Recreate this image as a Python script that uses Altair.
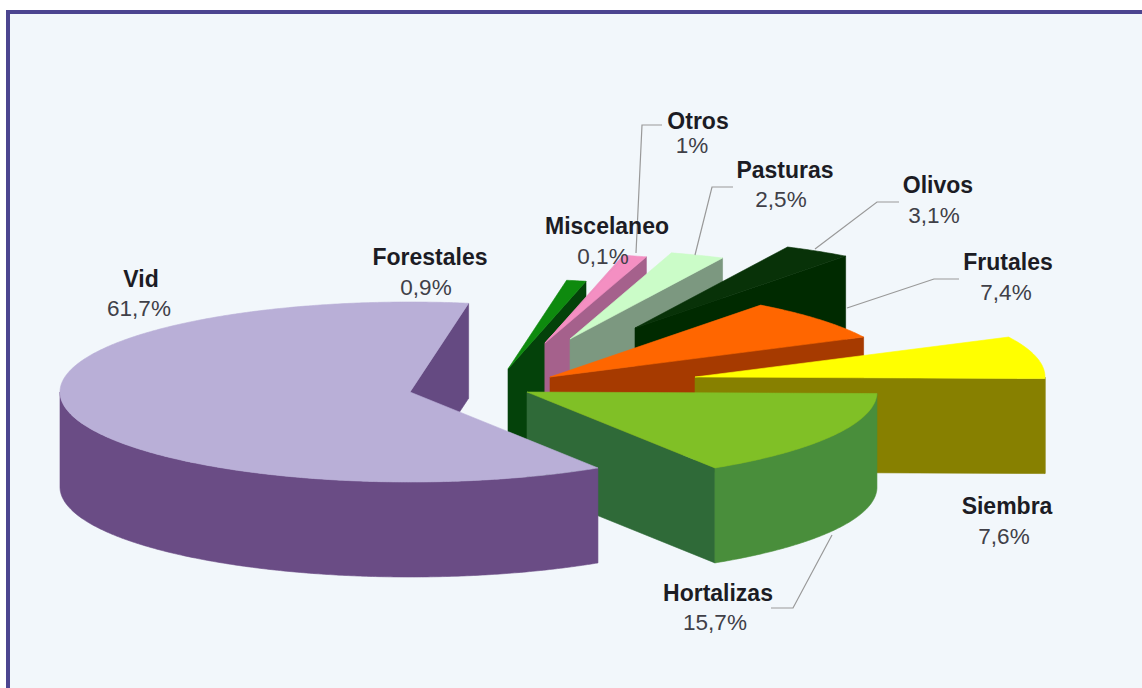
import math
import altair as alt
import pandas as pd

# Land use shares, in the order they run clockwise round the pie, Vid closing the circle
NAMES = ["Hortalizas", "Siembra", "Frutales", "Olivos", "Pasturas", "Otros", "Miscelaneo", "Forestales", "Vid"]
SHARES = [15.7, 7.6, 7.4, 3.1, 2.5, 1.0, 0.1, 0.9, 61.7]
SHARE_TEXT = ["15,7%", "7,6%", "7,4%", "3,1%", "2,5%", "1%", "0,1%", "0,9%", "61,7%"]

TOP_COLORS = {
    "Forestales": "#0E8A0E", "Miscelaneo": "#F08FC0", "Otros": "#F48FC2", "Pasturas": "#CBFCC8", "Olivos": "#083208",
    "Frutales": "#FF6600", "Siembra": "#FFFF00", "Hortalizas": "#80C026", "Vid": "#B9AFD7",
}
CUT_COLORS = {
    "Forestales": "#04420A", "Miscelaneo": "#A5618C", "Otros": "#A5618C", "Pasturas": "#7C9880", "Olivos": "#002A00",
    "Frutales": "#A63A00", "Siembra": "#878000", "Hortalizas": "#2F6A38", "Vid": "#654A82",
}
RIM_COLORS = {
    "Forestales": "#04420A", "Miscelaneo": "#A5618C", "Otros": "#A5618C", "Pasturas": "#7C9880", "Olivos": "#002A00",
    "Frutales": "#A63A00", "Siembra": "#878000", "Hortalizas": "#498E3B", "Vid": "#6A4C85",
}

# Where each exploded slice has its point on the chart
APEX = {
    "Forestales": (508, 369), "Miscelaneo": (545, 343), "Otros": (545, 343), "Pasturas": (570, 339), "Olivos": (635, 328),
    "Frutales": (550, 377), "Siembra": (695, 377), "Hortalizas": (527, 392), "Vid": (410, 392),
}

RADIUS_X, RADIUS_Y, DEPTH = 350, 90, 95
REFERENCE_ANGLE = -1.0  # Hortalizas' upper edge, in degrees

# Painter's order: the back slices first, Vid last
PAINT_ORDER = ["Forestales", "Miscelaneo", "Otros", "Pasturas", "Olivos", "Frutales", "Siembra", "Hortalizas", "Vid"]

LABEL_NAMES = ["Vid", "Forestales", "Miscelaneo", "Otros", "Pasturas", "Olivos", "Frutales", "Siembra", "Hortalizas"]
NAME_X = [141, 430, 607, 698, 785, 938, 1008, 1007, 718]
NAME_Y = [280, 258, 227, 122, 171, 186, 263, 507, 594]
VALUE_X = [139, 426, 603, 692, 781, 934, 1006, 1004, 715]
VALUE_Y = [309, 288, 257, 146, 200, 216, 293, 537, 623]

LEADERS = {
    "Otros": [(662, 125), (642, 125), (636, 253)],
    "Pasturas": [(733, 187), (712, 187), (695, 255)],
    "Olivos": [(899, 202), (877, 202), (815, 249)],
    "Frutales": [(959, 279), (934, 279), (847, 308)],
    "Hortalizas": [(771, 608), (793, 608), (832, 535)],
}


def rim_point(cx, cy, degrees, drop=0.0):
    a = math.radians(degrees)
    return cx + RADIUS_X * math.cos(a), cy - RADIUS_Y * math.sin(a) + drop


def arc(cx, cy, start, end, drop=0.0):
    steps = max(2, int(abs(end - start) * 2))
    return [rim_point(cx, cy, start + (end - start) * i / steps, drop) for i in range(steps + 1)]


# Angular span of every slice, from its share: Hortalizas hangs below the reference
# edge, the others stack counter-clockwise above it and Vid wraps round to meet Hortalizas.
share_of = dict(zip(NAMES, SHARES))
spans = {"Hortalizas": (REFERENCE_ANGLE - share_of["Hortalizas"] * 3.6, REFERENCE_ANGLE)}
edge = REFERENCE_ANGLE
for name in ["Siembra", "Frutales", "Olivos", "Pasturas", "Otros", "Miscelaneo", "Forestales", "Vid"]:
    spans[name] = (edge, edge + share_of[name] * 3.6)
    edge += share_of[name] * 3.6

rows = []


def add_shape(points, color):
    shape_id = rows[-1]["shape"] + 1 if rows else 0
    for k, (px, py) in enumerate(points + [points[0]]):
        rows.append({"shape": shape_id, "k": k, "x": px, "y": py, "color": color})


for name in PAINT_ORDER:
    low, high = spans[name]
    cx, cy = APEX[name]

    # The cut face on the clockwise side, extruded downward
    lx, ly = rim_point(cx, cy, low)
    add_shape([(cx, cy), (lx, ly), (lx, ly + DEPTH), (cx, cy + DEPTH)], CUT_COLORS[name])

    # The rim wall, only where the outer edge faces the viewer
    for base in (-360, 0):
        a, b = max(low, base + 180), min(high, base + 360)
        if a < b:
            add_shape(arc(cx, cy, a, b) + arc(cx, cy, b, a, DEPTH), RIM_COLORS[name])

    # The top face
    add_shape([(cx, cy)] + arc(cx, cy, low, high), TOP_COLORS[name])

faces = pd.DataFrame(rows)

x_scale = alt.Scale(domain=[0, 1142], nice=False, zero=False)
y_scale = alt.Scale(domain=[688, 0], nice=False, zero=False)
X = alt.X("x:Q", scale=x_scale, axis=None)
Y = alt.Y("y:Q", scale=y_scale, axis=None)

frame = pd.DataFrame({
    "x": [6, 10], "x2": [1142, 1142], "y": [10, 14], "y2": [688, 688],
    "color": ["#4C4590", "#F2F7FB"], "id": [0, 1],
})
backdrop = alt.Chart(frame).mark_rect().encode(
    x=X, x2="x2:Q", y=Y, y2="y2:Q",
    fill=alt.Fill("color:N", scale=None),
    order="id:Q",
)

slices = alt.Chart(faces).mark_line(strokeWidth=0.6, interpolate="linear", strokeJoin="round").encode(
    x=X, y=Y,
    detail="shape:N",
    order="k:Q",
    fill=alt.Fill("color:N", scale=None),
    stroke=alt.Stroke("color:N", scale=None),
)

leader_rows = []
for name, pts in LEADERS.items():
    for k, (px, py) in enumerate(pts):
        leader_rows.append({"name": name, "k": k, "x": px, "y": py})
leaders = alt.Chart(pd.DataFrame(leader_rows)).mark_line(color="#999999", strokeWidth=1.2).encode(
    x=X, y=Y, detail="name:N", order="k:Q",
)

value_lookup = dict(zip(NAMES, SHARE_TEXT))
labels = pd.DataFrame({
    "name": LABEL_NAMES,
    "value": [value_lookup[n] for n in LABEL_NAMES],
    "nx": NAME_X, "ny": NAME_Y, "vx": VALUE_X, "vy": VALUE_Y,
})
name_text = alt.Chart(labels).mark_text(
    font="Liberation Sans", fontSize=23, fontWeight="bold", color="#1C1C24", align="center", baseline="middle",
).encode(
    x=alt.X("nx:Q", scale=x_scale, axis=None),
    y=alt.Y("ny:Q", scale=y_scale, axis=None),
    text="name:N",
)
value_text = alt.Chart(labels).mark_text(
    font="Liberation Sans", fontSize=22.5, color="#404048", align="center", baseline="middle",
).encode(
    x=alt.X("vx:Q", scale=x_scale, axis=None),
    y=alt.Y("vy:Q", scale=y_scale, axis=None),
    text="value:N",
)

chart = (backdrop + slices + leaders + name_text + value_text).properties(
    width=1142, height=688, padding=0, background="white",
    autosize=alt.AutoSizeParams(type="none"),
).configure_view(stroke=None)

chart.save("out.html", embed_options={"renderer": "svg", "actions": False})
